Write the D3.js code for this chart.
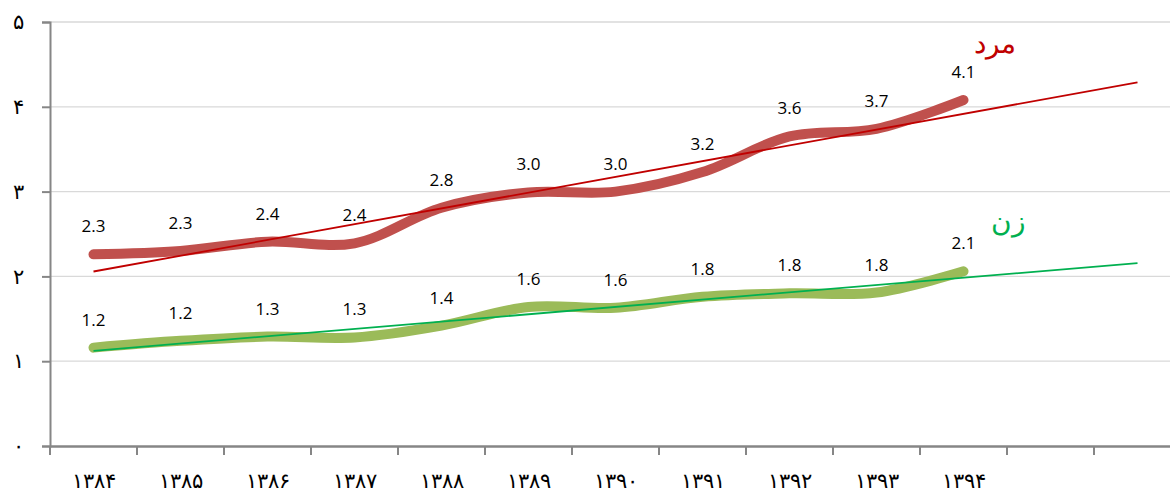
<!DOCTYPE html>
<html>
<head>
<meta charset="utf-8">
<script src="https://cdn.jsdelivr.net/npm/d3@7"></script>
<style>
  body { margin: 0; background: #fff; }
  svg { display: block; }
</style>
</head>
<body>
<svg id="chart" width="1170" height="493"></svg>
<script>
// categories (13 slots, last two only used by the trend forecast)
const years = ['۱۳۸۴', '۱۳۸۵', '۱۳۸۶', '۱۳۸۷', '۱۳۸۸', '۱۳۸۹', '۱۳۹۰', '۱۳۹۱', '۱۳۹۲', '۱۳۹۳', '۱۳۹۴', '', ''];
const menValues = [2.26, 2.30, 2.41, 2.39, 2.81, 2.99, 3.00, 3.23, 3.65, 3.74, 4.08];
const womenValues = [1.16, 1.24, 1.29, 1.28, 1.42, 1.64, 1.63, 1.76, 1.80, 1.81, 2.06];
const yTicks = [0, 1, 2, 3, 4, 5];
const yTickLabels = ['۰', '۱', '۲', '۳', '۴', '۵'];
const seriesNames = ['مرد', 'زن'];

const svg = d3.select('#chart');
const plotLeft = 50, plotTop = 22, plotBottom = 446;
const step = 87;

const x = d3.scaleBand()
  .domain(d3.range(years.length))
  .range([plotLeft, plotLeft + step * years.length]);
const y = d3.scaleLinear().domain([0, 5]).range([plotBottom, plotTop]);

// gridlines
svg.append('g')
  .selectAll('line')
  .data(yTicks.slice(1))
  .enter()
  .append('line')
    .attr('x1', plotLeft).attr('x2', 1170)
    .attr('y1', d => y(d)).attr('y2', d => y(d))
    .attr('stroke', '#d9d9d9')
    .attr('stroke-width', 1.3);

// y axis
const yAxis = svg.append('g')
  .attr('transform', `translate(${plotLeft},0)`)
  .call(d3.axisLeft(y).tickValues(yTicks).tickSize(8).tickFormat((d, i) => yTickLabels[i]));
yAxis.select('.domain').attr('stroke', '#868686').attr('stroke-width', 2);
yAxis.selectAll('line').attr('stroke', '#868686').attr('stroke-width', 2);
yAxis.selectAll('text')
  .attr('x', -32)
  .style('text-anchor', 'middle')
  .style('font-family', 'DejaVu Sans')
  .style('font-weight', '300')
  .style('font-size', '21px')
  .attr('fill', '#000');

// x axis
const xAxis = svg.append('g')
  .attr('transform', `translate(0,${plotBottom})`)
  .call(d3.axisBottom(x).tickSize(0).tickFormat((d, i) => years[i]));
xAxis.select('.domain').attr('stroke', '#868686').attr('stroke-width', 2.5);
xAxis.selectAll('text')
  .attr('y', 42)
  .attr('dy', null)
  .style('font-family', 'DejaVu Sans')
  .style('font-weight', '300')
  .style('font-size', '21px')
  .attr('fill', '#000');
// x tick marks between categories
xAxis.selectAll('.sep')
  .data(d3.range(years.length + 1))
  .enter()
  .append('line')
    .attr('x1', d => plotLeft + d * step).attr('x2', d => plotLeft + d * step)
    .attr('y1', 0).attr('y2', 9)
    .attr('stroke', '#868686')
    .attr('stroke-width', 2);

const cx = i => x(i) + x.bandwidth() / 2;

// linear regression with 2-period forecast
function trend(values) {
  const n = values.length;
  const mx = d3.mean(d3.range(n));
  const my = d3.mean(values);
  let sxy = 0, sxx = 0;
  values.forEach((v, i) => { sxy += (i - mx) * (v - my); sxx += (i - mx) * (i - mx); });
  const b = sxy / sxx;
  const a = my - b * mx;
  return [[0, a], [n + 1, a + b * (n + 1)]];
}

const line = d3.line()
  .x((d, i) => cx(i))
  .y(d => y(d))
  .curve(d3.curveCatmullRom.alpha(0.5));

const series = [
  { name: seriesNames[0], values: menValues, color: '#c0504d', trendColor: '#c00000', labelColor: '#c00000', lx: 995, ly: 53 },
  { name: seriesNames[1], values: womenValues, color: '#9bbb59', trendColor: '#00b050', labelColor: '#00b050', lx: 1008, ly: 231 }
];

series.forEach(s => {
  svg.append('path')
    .datum(s.values)
    .attr('d', line)
    .attr('fill', 'none')
    .attr('stroke', s.color)
    .attr('stroke-width', 10)
    .attr('stroke-linecap', 'round')
    .attr('stroke-linejoin', 'round');

  const t = trend(s.values);
  svg.append('line')
    .attr('x1', cx(t[0][0])).attr('y1', y(t[0][1]))
    .attr('x2', cx(t[1][0])).attr('y2', y(t[1][1]))
    .attr('stroke', s.trendColor)
    .attr('stroke-width', 1.8);

  // data labels
  svg.selectAll(null)
    .data(s.values)
    .enter()
    .append('text')
      .attr('x', (d, i) => cx(i))
      .attr('y', d => y(d) - 22)
      .attr('text-anchor', 'middle')
      .style('font-family', 'Open Sans')
      .style('font-size', '17px')
      .attr('fill', '#000')
      .text(d => d.toFixed(1));

  svg.append('text')
    .attr('x', s.lx).attr('y', s.ly)
    .attr('text-anchor', 'middle')
    .style('font-family', 'DejaVu Sans')
    .style('font-weight', '300')
    .style('font-size', '28px')
    .attr('fill', s.labelColor)
    .text(s.name);
});
</script>
</body>
</html>
